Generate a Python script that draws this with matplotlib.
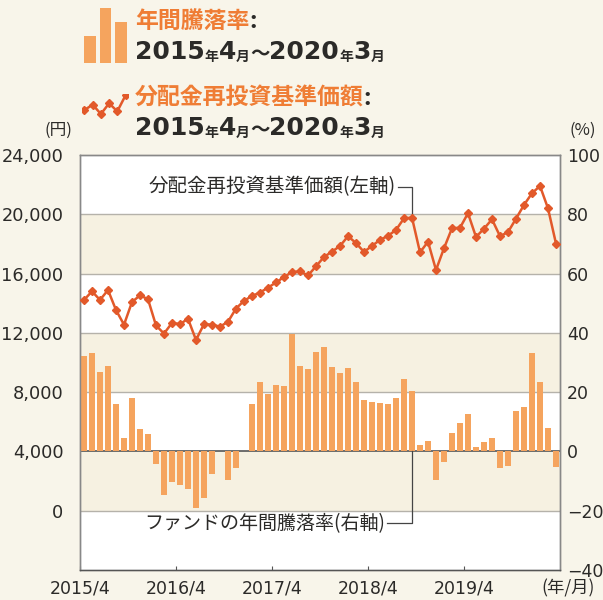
import matplotlib
matplotlib.use('Agg')
import matplotlib.pyplot as plt
import numpy as np

plt.rcParams['font.family'] = ['Noto Sans CJK JP', 'DejaVu Sans']

# monthly data 2015/4 - 2020/3
months = np.arange(60)
tick_pos = [0, 12, 24, 36, 48]
tick_labels = ['2015/4', '2016/4', '2017/4', '2018/4', '2019/4']

# 分配金再投資基準価額 (円)
nav = [14220, 14800, 14220, 14890, 13540, 12550, 14080, 14530, 14270, 12500,
       11950, 12670, 12590, 12950, 11520, 12590, 12550, 12420, 12750, 13640,
       14160, 14490, 14720, 15050, 15400, 15770, 16100, 16150, 15870, 16490,
       17120, 17480, 17860, 18520, 18060, 17460, 17870, 18270, 18550, 18940,
       19730, 19770, 17430, 18150, 16240, 17710, 19060, 19090, 20070, 18470,
       19030, 19660, 18520, 18800, 19700, 20630, 21420, 21910, 20400, 18020]

# 年間騰落率 (%)
annual_return = [32.2, 33.1, 26.7, 28.9, 15.9, 4.4, 17.9, 7.6, 5.8, -4.4,
                 -14.7, -10.2, -11.3, -12.7, -19.2, -15.7, -7.7, 0.0, -9.6, -5.6,
                 0.0, 16.0, 23.3, 19.3, 22.4, 22.2, 39.5, 28.8, 27.7, 33.4,
                 35.3, 28.6, 26.6, 28.0, 23.5, 17.3, 16.8, 16.4, 16.0, 17.9,
                 24.3, 20.4, 2.2, 3.6, -9.6, -3.7, 6.1, 9.7, 12.5, 1.6,
                 3.1, 4.4, -5.5, -4.9, 13.7, 14.9, 33.1, 23.3, 7.8, -5.2]

left_ticks = [0, 4000, 8000, 12000, 16000, 20000, 24000]
right_ticks = [-40, -20, 0, 20, 40, 60, 80, 100]
bands = [(60, 80), (20, 40), (-20, 0)]

icon_bars = [0.5, 1.0, 0.75]
icon_line = [0.45, 0.65, 0.3, 0.7, 0.4, 1.0]

BG = '#f8f5ea'
BAND = '#f6f1e1'
BAR = '#f5a45e'
LINE = '#e2592a'
ORANGE = '#ef7d35'
DARK = '#2b2a28'
GRID = '#b5b2aa'
NUMFONT = 'DejaVu Sans'

fig = plt.figure(figsize=(6.03, 6.0), dpi=100)
fig.patch.set_facecolor(BG)

ax = fig.add_axes([80/603, 30/600, 480/603, 415/600])
ax2 = ax.twinx()

# right axis: background bands, grid, bars
ax2.set_ylim(-40, 100)
ax2.patch.set_visible(True)
ax2.set_facecolor('white')
for lo, hi in bands:
    ax2.axhspan(lo, hi, color=BAND, lw=0, zorder=0)
for v in right_ticks[1:-1]:
    ax2.axhline(v, color='#555555' if v == 0 else GRID, lw=1.2 if v == 0 else 1, zorder=1)
ax2.bar(months + 0.5, annual_return, width=0.8, color=BAR, lw=0, zorder=3)
ax2.set_yticks(right_ticks)
ax2.set_yticklabels([str(v).replace('-', '\u2212') for v in right_ticks])
ax2.tick_params(axis='y', length=0, pad=5, labelsize=12.5, labelcolor=DARK,
                labelfontfamily=NUMFONT)

# left axis: line
ax.set_zorder(ax2.get_zorder() + 1)
ax.patch.set_visible(False)
ax.set_xlim(0, 60)
ax.set_ylim(-4000, 24000)
ax.plot(months + 0.5, nav, color=LINE, lw=1.8, marker='D', markersize=4.5, zorder=5)
ax.set_yticks(left_ticks)
ax.set_yticklabels([f'{v:,}' for v in left_ticks])
ax.tick_params(axis='y', length=0, pad=12, labelsize=12.8, labelcolor=DARK,
               labelfontfamily=NUMFONT)
ax.set_xticks(tick_pos)
ax.set_xticklabels(tick_labels)
ax.tick_params(axis='x', direction='in', length=3, pad=7, labelsize=12.5, labelcolor=DARK,
               color='#555555', labelfontfamily=NUMFONT)

for a in (ax, ax2):
    for s in a.spines.values():
        s.set_color('#888888')
        s.set_linewidth(1)
ax.spines['bottom'].set_color('#555555')

# annotations with leader lines
ax.text(39.5, 21840, '分配金再投資基準価額(左軸)', ha='right', va='center', fontsize=14, color=DARK)
ax.plot([39.7, 41.5, 41.5], [21840, 21840, nav[41]], color='#444444', lw=0.9, zorder=4)
ax2.text(38.2, -24.2, 'ファンドの年間騰落率(右軸)', ha='right', va='center', fontsize=13.7, color=DARK)
ax2.plot([38.4, 41.5, 41.5], [-24.2, -24.2, 0], color='#444444', lw=0.9, zorder=4)

# unit labels
fig.text(58/603, 1 - 130/600, '(円)', ha='center', va='center', fontsize=12, color=DARK)
fig.text(583/603, 1 - 130/600, '(%)', ha='center', va='center', fontsize=12, color=DARK)
fig.text(568/603, 1 - 588/600, '(年/月)', ha='center', va='center', fontsize=12.5, color=DARK)

# legend icons
iax = fig.add_axes([83/603, 1 - 63/600, 45/603, 55/600])
iax.bar([0, 1, 2], icon_bars, width=0.75, color=BAR, lw=0)
iax.set_xlim(-0.45, 2.45)
iax.set_ylim(0, 1)
iax.axis('off')

lax = fig.add_axes([82/603, 1 - 122/600, 46/603, 28/600])
lax.plot(np.arange(len(icon_line)), icon_line, color=LINE, lw=1.8, marker='D', markersize=4.5)
lax.set_xlim(-0.3, len(icon_line) - 0.7)
lax.set_ylim(0, 1.05)
lax.axis('off')


def chain(t, s, **kw):
    return ax.annotate(s, xy=(1, 0), xycoords=t, va='bottom', ha='left',
                       annotation_clip=False, fontweight='bold', **kw)


def date_range(x, y):
    parts = [('2015', 18, NUMFONT), ('年', 10, None), ('4', 18, NUMFONT), ('月', 10, None),
             ('～', 14, None), ('2020', 18, NUMFONT), ('年', 10, None), ('3', 18, NUMFONT),
             ('月', 10, None)]
    t = fig.text(x, y, parts[0][0], fontsize=parts[0][1], fontweight='bold', family=NUMFONT,
                 color=DARK, va='bottom', ha='left')
    for s, fs, fam in parts[1:]:
        kw = {'family': fam} if fam else {}
        t = chain(t, s, fontsize=fs, color=DARK, **kw)


def title(x, y, s):
    t = fig.text(x, y, s, fontsize=16.5, fontweight='bold', color=ORANGE, va='bottom', ha='left')
    chain(t, ':', fontsize=16.5, color=DARK)


title(135/603, 1 - 33/600, '年間騰落率')
date_range(135/603, 1 - 64/600)
title(135/603, 1 - 110/600, '分配金再投資基準価額')
date_range(135/603, 1 - 140/600)

fig.savefig('out.png', dpi=100, facecolor=fig.get_facecolor())
